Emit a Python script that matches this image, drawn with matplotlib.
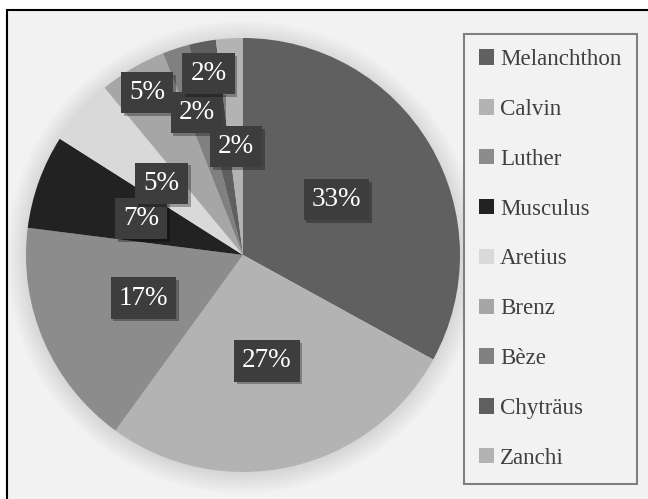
import numpy as np
import matplotlib
matplotlib.use("Agg")
import matplotlib.pyplot as plt
from matplotlib.patches import Patch, Circle, Rectangle
import matplotlib.patheffects as pe

# data
names = ['Melanchthon', 'Calvin', 'Luther', 'Musculus', 'Aretius',
         'Brenz', 'Bèze', 'Chyträus', 'Zanchi']
shares = [33, 27, 17, 7, 5, 5, 2, 2, 2]
colors = ['#606060', '#b3b3b3', '#8c8c8c', '#222222', '#d9d9d9',
          '#a6a6a6', '#808080', '#5f5f5f', '#b3b3b3']
# how far out each label sits (fraction of radius)
label_r = [0.5, 0.5, 0.5, 0.5, 0.5, 0.87, 0.69, 0.85, 0.5]

W, H = 648, 499
fig = plt.figure(figsize=(W / 100, H / 100), dpi=100)
fig.patch.set_facecolor('white')

# grey chart area with black frame on left/top
fig.patches.append(Rectangle((7 / W, -0.05), 1.1, 1 - 10 / H + 0.05,
                             transform=fig.transFigure, facecolor='#f2f2f2',
                             edgecolor='black', linewidth=1.5, zorder=-5))

cx, cy, r = 243, 255, 217
ax = fig.add_axes([(cx - r) / W, (H - cy - r) / H, 2 * r / W, 2 * r / H])
ax.set_zorder(1)
ax.patch.set_visible(False)

# soft shadow around the pie
for k in range(14):
    ax.add_patch(Circle((0.0, -0.01), 1.0 + 0.007 * k, color='black',
                        alpha=0.008, lw=0, zorder=0, clip_on=False))

wedges, _ = ax.pie(shares, colors=colors, startangle=90, counterclock=False,
                   radius=1.0, wedgeprops=dict(linewidth=0, clip_on=False))
ax.set_xlim(-1, 1)
ax.set_ylim(-1, 1)
ax.set_aspect('equal')
ax.axis('off')

total = sum(shares)
cum = 0
for i, s in enumerate(shares):
    mid = (cum + s / 2) / total * 360
    cum += s
    ang = np.deg2rad(90 - mid)
    x, y = label_r[i] * np.cos(ang), label_r[i] * np.sin(ang)
    t = ax.text(x, y, f'{round(s / total * 100)}%', ha='center', va='center',
                fontsize=19.5, family='Liberation Serif', color='white',
                bbox=dict(boxstyle='square,pad=0.3', facecolor='#3d3d3d',
                          edgecolor='none'), zorder=5 + i, clip_on=False)
    t.get_bbox_patch().set_path_effects(
        [pe.SimplePatchShadow(offset=(2, -2), shadow_rgbFace='black', alpha=0.3),
         pe.Normal()])

handles = [Patch(facecolor=c, edgecolor='none') for c in colors]
leg = fig.legend(handles, names, loc='upper left',
                 bbox_to_anchor=(464 / W, 1 - 34 / H),
                 frameon=True, fancybox=False, framealpha=1,
                 prop={'family': 'Liberation Serif', 'size': 16.6},
                 labelcolor='#404040', handlelength=0.65, handleheight=0.65,
                 handletextpad=0.25, labelspacing=1.25, borderpad=0.66,
                 borderaxespad=0)
leg.get_frame().set_facecolor('#f2f2f2')
leg.get_frame().set_edgecolor('#808080')
leg.get_frame().set_linewidth(1.5)

fig.savefig('out.png', dpi=100, facecolor=fig.get_facecolor())
